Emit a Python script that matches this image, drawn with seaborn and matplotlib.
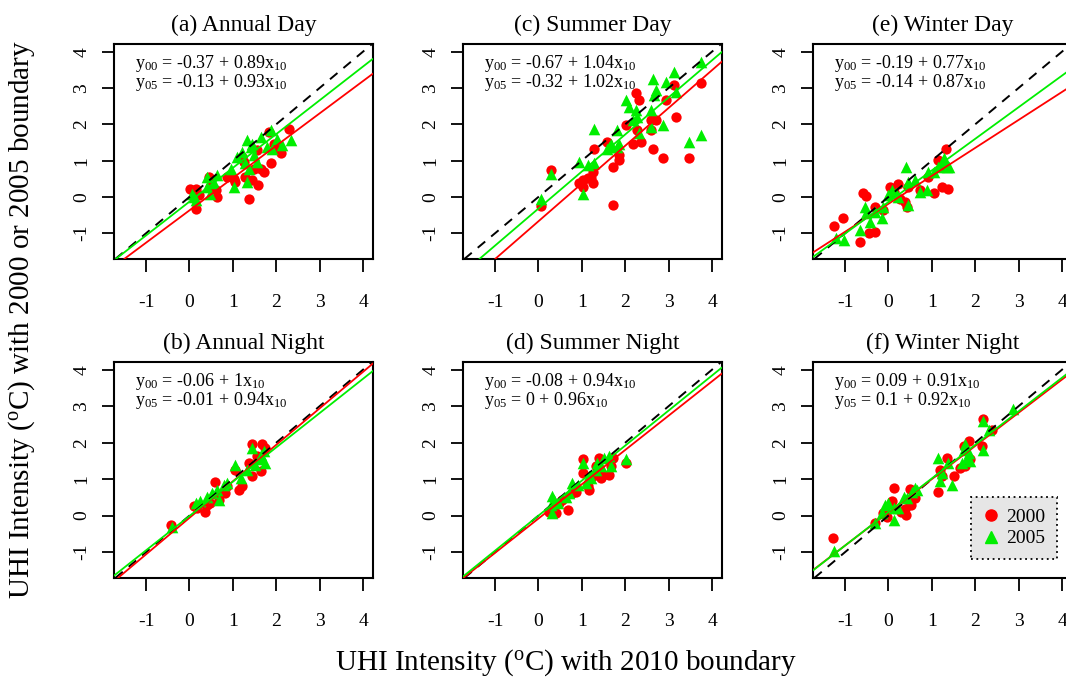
import numpy as np
import pandas as pd
import matplotlib.pyplot as plt
import seaborn as sns
from matplotlib.lines import Line2D

# (a) Annual Day
ad_x00 = [0.02, 0.14, 0.16, 0.46, 0.64, 0.60, 1.02, 1.06, 1.22, 1.37, 1.45, 1.58, 1.64, 1.72,
          1.87, 2.02, 2.10, 2.29, 1.83, 1.25, 1.29, 1.48, 0.87, 0.48, 0.22, 1.56, 1.95]
ad_y00 = [0.23, 0.23, -0.32, 0.55, 0.00, 0.18, 0.50, 0.41, 1.10, -0.05, 0.46, 0.32, 0.78, 0.69,
          0.92, 1.33, 1.20, 1.88, 1.79, 0.96, 0.55, 0.78, 0.55, 0.28, 0.05, 1.28, 1.47]
ad_x05 = [0.05, 0.14, 0.10, 0.48, 0.56, 0.64, 0.95, 1.02, 1.22, 1.33, 1.41, 1.29, 1.37, 1.33,
          1.48, 1.56, 1.64, 1.87, 1.91, 2.02, 2.14, 2.33, 0.41, 0.41, 1.10, 1.45, 1.79]
ad_y05 = [0.09, -0.09, 0.00, 0.09, 0.37, 0.60, 0.78, 0.28, 1.24, 1.56, 1.38, 0.92, 0.78, 0.41,
          1.15, 0.96, 1.65, 1.83, 1.33, 1.60, 1.42, 1.56, 0.55, 0.28, 1.10, 1.47, 1.38]

# (c) Summer Day
sd_x00 = [0.05, 0.28, 0.94, 1.02, 1.13, 1.25, 1.25, 1.28, 1.59, 1.71, 1.71, 1.86, 1.86, 2.02,
          2.17, 2.25, 2.28, 2.32, 2.36, 2.59, 2.63, 2.71, 2.59, 2.86, 2.94, 3.13, 3.17, 3.48,
          3.75, 1.02, 1.21]
sd_y00 = [-0.26, 0.74, 0.37, 0.46, 0.51, 0.37, 0.69, 1.33, 1.52, 0.83, -0.23, 1.01, 1.15, 1.98,
          1.47, 2.85, 1.84, 2.67, 1.52, 2.11, 1.33, 2.11, 1.84, 1.06, 2.67, 3.08, 2.21, 1.06,
          3.13, 0.28, 0.51]
sd_x05 = [0.05, 0.28, 0.94, 1.03, 1.13, 1.28, 1.27, 1.63, 1.67, 1.82, 1.82, 1.86, 2.02, 2.17,
          2.25, 2.28, 2.32, 2.59, 2.59, 2.63, 2.67, 2.71, 2.86, 2.94, 3.13, 3.17, 3.48, 3.75,
          3.75, 1.59, 2.09]
sd_y05 = [-0.05, 0.64, 0.97, 0.09, 0.87, 0.92, 1.86, 1.38, 1.47, 1.38, 1.84, 1.47, 2.67, 2.11,
          2.39, 2.21, 1.75, 2.39, 1.93, 3.26, 2.80, 2.94, 1.98, 3.17, 3.45, 2.90, 1.52, 3.72,
          1.70, 1.33, 2.48]

# (e) Winter Day
wd_x00 = [-1.25, -1.05, -0.65, -0.58, -0.52, -0.46, -0.32, -0.32, -0.12, 0.04, 0.12, 0.22,
          0.27, 0.38, 0.45, 0.42, 0.73, 0.92, 1.04, 1.15, 1.23, 1.32, 1.38, 1.29]
wd_y00 = [-0.81, -0.57, -1.24, 0.12, 0.03, -0.99, -0.97, -0.28, -0.37, 0.28, 0.14, 0.35,
          -0.05, -0.14, 0.28, -0.28, 0.18, 0.55, 0.11, 1.01, 0.28, 1.33, 0.23, 0.83]
wd_x05 = [-1.22, -1.02, -0.65, -0.55, -0.52, -0.42, -0.31, -0.15, -0.13, 0.00, 0.08, 0.17,
          0.23, 0.40, 0.45, 0.62, 0.73, 0.88, 0.92, 1.04, 1.15, 1.25, 1.29, 1.35, 1.40, 0.46]
wd_y05 = [-1.12, -1.20, -0.92, -0.29, -0.44, -0.69, -0.41, -0.57, -0.28, 0.05, 0.18, 0.11,
          0.00, 0.81, 0.41, 0.46, 0.14, 0.18, 0.69, 0.69, 0.83, 0.97, 1.06, 0.83, 0.83, -0.23]

# (b) Annual Night
an_x00 = [-0.42, 0.10, 0.18, 0.35, 0.48, 0.58, 0.68, 0.81, 0.87, 1.06, 1.15, 1.22, 1.37, 1.45,
          1.45, 1.64, 1.68, 1.73, 1.56, 0.41]
an_y00 = [-0.26, 0.25, 0.20, 0.11, 0.34, 0.91, 0.43, 0.62, 0.80, 1.26, 0.71, 0.80, 1.44, 1.08,
          1.95, 1.21, 1.95, 1.86, 1.63, 0.29]
an_x05 = [-0.40, 0.14, 0.25, 0.41, 0.52, 0.64, 0.79, 0.87, 1.06, 1.18, 1.33, 1.45, 1.52, 1.64,
          1.72, 1.75, 1.64, 0.68]
an_y05 = [-0.32, 0.34, 0.39, 0.52, 0.62, 0.71, 0.85, 0.89, 1.40, 1.03, 1.26, 1.86, 1.40, 1.54,
          1.77, 1.44, 1.67, 0.43]

# (d) Summer Night
sn_x00 = [0.25, 0.40, 0.48, 0.55, 0.67, 0.78, 0.86, 1.02, 1.02, 1.13, 1.17, 1.25, 1.40, 1.44,
          1.48, 1.63, 1.67, 1.71, 2.02, 1.32]
sn_y00 = [0.11, 0.08, 0.34, 0.43, 0.16, 0.62, 0.66, 1.54, 1.17, 0.80, 0.71, 1.08, 1.58, 1.03,
          1.12, 1.12, 1.35, 1.58, 1.44, 1.35]
sn_x05 = [0.28, 0.32, 0.32, 0.36, 0.44, 0.63, 0.71, 0.78, 0.90, 1.02, 1.09, 1.17, 1.21, 1.36,
          1.44, 1.52, 1.63, 1.67, 2.02, 1.32]
sn_y05 = [0.29, 0.55, 0.06, 0.43, 0.34, 0.52, 0.62, 0.89, 0.85, 1.44, 0.89, 1.08, 1.03, 1.44,
          1.35, 1.58, 1.63, 1.35, 1.54, 1.26]

# (f) Winter Night
wn_x00 = [-1.27, -0.31, -0.12, -0.04, 0.09, 0.12, 0.29, 0.38, 0.40, 0.46, 0.52, 0.62, 0.50,
          1.15, 1.19, 1.23, 1.35, 1.50, 1.65, 1.73, 1.77, 1.85, 1.88, 2.15, 2.19, 2.38]
wn_y00 = [-0.60, -0.19, 0.08, -0.03, 0.41, 0.75, 0.11, 0.17, 0.02, 0.43, 0.29, 0.48, 0.73,
          0.66, 1.26, 1.08, 1.58, 1.08, 1.31, 1.90, 1.35, 2.04, 1.54, 1.90, 2.64, 2.36]
wn_x05 = [-1.25, -0.32, -0.15, -0.08, 0.00, 0.12, 0.12, 0.23, 0.35, 0.42, 0.54, 0.62, 0.65,
          1.15, 1.19, 1.23, 1.38, 1.46, 1.69, 1.73, 1.77, 1.81, 1.85, 1.88, 2.19, 2.19, 2.31, 2.88]
wn_y05 = [-0.97, -0.21, 0.08, 0.29, 0.34, -0.12, 0.20, 0.20, 0.52, 0.48, 0.66, 0.75, 0.71,
          1.58, 0.94, 1.17, 1.44, 0.85, 1.44, 1.81, 1.95, 1.58, 1.72, 1.49, 1.81, 2.59, 2.36, 2.92]

titles = ["(a) Annual Day", "(c) Summer Day", "(e) Winter Day",
          "(b) Annual Night", "(d) Summer Night", "(f) Winter Night"]
fit00 = [(-0.37, 0.89), (-0.67, 1.04), (-0.19, 0.77), (-0.06, 1), (-0.08, 0.94), (0.09, 0.91)]
fit05 = [(-0.13, 0.93), (-0.32, 1.02), (-0.14, 0.87), (-0.01, 0.94), (0, 0.96), (0.1, 0.92)]
xs00 = [ad_x00, sd_x00, wd_x00, an_x00, sn_x00, wn_x00]
ys00 = [ad_y00, sd_y00, wd_y00, an_y00, sn_y00, wn_y00]
xs05 = [ad_x05, sd_x05, wd_x05, an_x05, sn_x05, wn_x05]
ys05 = [ad_y05, sd_y05, wd_y05, an_y05, sn_y05, wn_y05]

sns.set_style("ticks")
plt.rcParams['font.family'] = ['Liberation Serif', 'DejaVu Serif']
plt.rcParams['mathtext.fontset'] = 'custom'
plt.rcParams['mathtext.rm'] = 'Liberation Serif'
plt.rcParams['mathtext.it'] = 'Liberation Serif:italic'
plt.rcParams['axes.unicode_minus'] = False
plt.rcParams['text.color'] = 'black'
plt.rcParams['axes.labelcolor'] = 'black'
plt.rcParams['xtick.color'] = 'black'
plt.rcParams['ytick.color'] = 'black'

RED = "#ff0000"
GREEN = "#00ee00"
W, H = 1066, 679
fig = plt.figure(figsize=(W / 100, H / 100), dpi=100)

lefts = [114, 463, 813]
rows = [(44, 259), (362, 578)]

def fmt(v):
    return ("%g" % v)

for i in range(6):
    r, c = divmod(i, 3)
    top, bot = rows[r]
    ax = fig.add_axes([lefts[c] / W, 1 - bot / H, 259 / W, (bot - top) / H])
    d00 = pd.DataFrame({"x": xs00[i], "y": ys00[i]})
    d05 = pd.DataFrame({"x": xs05[i], "y": ys05[i]})
    sns.scatterplot(data=d00, x="x", y="y", color=RED, marker="o", s=55, linewidth=0, ax=ax, zorder=2)
    sns.scatterplot(data=d05, x="x", y="y", color=GREEN, marker="^", s=70, linewidth=0, ax=ax, zorder=3)
    ax.axline((0, 0), slope=1, color="black", ls=(0, (5, 4)), lw=1.4, zorder=4)
    a, b = fit00[i]
    ax.axline((0, a), slope=b, color=RED, lw=1.3, zorder=5)
    a, b = fit05[i]
    ax.axline((0, a), slope=b, color=GREEN, lw=1.3, zorder=5)
    ax.set_xlim(-1.74, 4.23)
    ax.set_ylim(-1.71, 4.21)
    ax.set_xticks(range(-1, 5))
    ax.set_yticks(range(-1, 5))
    ax.set_xlabel("")
    ax.set_ylabel("")
    ax.tick_params(direction="out", length=9, width=1.3, labelsize=14, colors="black")
    ax.tick_params(axis="x", pad=16)
    ax.tick_params(axis="y", pad=8)
    for lab in ax.get_yticklabels():
        lab.set_rotation(90)
        lab.set_va("center")
    for sp in ax.spines.values():
        sp.set_linewidth(1.5)
        sp.set_color("black")
    ax.set_title(titles[i], fontsize=17, pad=9)
    a0, b0 = fit00[i]
    a5, b5 = fit05[i]
    ax.text(0.08, 0.91, "y$_{00}$ = %s + %sx$_{10}$" % (fmt(a0), fmt(b0)),
            transform=ax.transAxes, fontsize=13, va="center")
    ax.text(0.08, 0.82, "y$_{05}$ = %s + %sx$_{10}$" % (fmt(a5), fmt(b5)),
            transform=ax.transAxes, fontsize=13, va="center")
    if i == 5:
        handles = [Line2D([], [], marker="o", color=RED, ls="none", markersize=8),
                   Line2D([], [], marker="^", color=GREEN, ls="none", markersize=8)]
        leg = ax.legend(handles, ["2000", "2005"], loc="lower right",
                        bbox_to_anchor=(0.942, 0.088), borderaxespad=0, fontsize=14,
                        frameon=True, fancybox=False, handletextpad=0.4, borderpad=0.6,
                        handlelength=0.8, labelspacing=0.2)
        fr = leg.get_frame()
        fr.set_facecolor("#e6e6e6")
        fr.set_edgecolor("black")
        fr.set_linestyle((0, (1, 2)))
        fr.set_linewidth(1.3)
        fr.set_alpha(1)

fig.text(22 / W, 0.529, "UHI Intensity ($^{\\mathrm{o}}$C) with 2000 or 2005 boundary",
         rotation=90, ha="center", va="center", fontsize=21)
fig.text(0.531, 1 - 663 / H, "UHI Intensity ($^{\\mathrm{o}}$C) with 2010 boundary",
         ha="center", va="center", fontsize=21)

fig.savefig("out.png", dpi=100)
